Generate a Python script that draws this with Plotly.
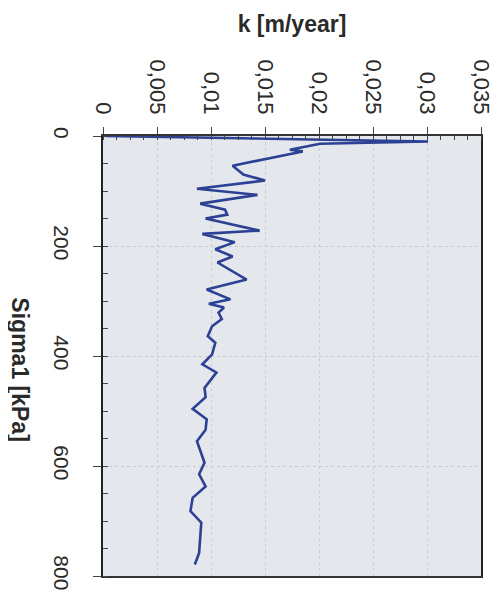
import plotly.graph_objects as go

# Data
sigma1_kpa = [0, 10, 14, 25, 28, 54, 70, 81, 96, 107, 123, 134, 143, 150, 172, 178,
              193, 206, 219, 230, 261, 279, 297, 305, 312, 321, 333, 346, 364, 376,
              397, 415, 430, 458, 475, 496, 515, 534, 555, 594, 615, 637, 658, 682,
              703, 758, 779]
k_m_per_year = [0.0002, 0.0301, 0.0201, 0.0173, 0.0185, 0.0120, 0.0130, 0.0150, 0.0087,
                0.0143, 0.0090, 0.0113, 0.0115, 0.0095, 0.0145, 0.0092, 0.0122, 0.0104,
                0.0120, 0.0106, 0.0133, 0.0096, 0.0118, 0.0098, 0.0112, 0.0107, 0.0110,
                0.0101, 0.0097, 0.0104, 0.0101, 0.0092, 0.0105, 0.0094, 0.0095, 0.0083,
                0.0096, 0.0095, 0.0087, 0.0094, 0.0089, 0.0095, 0.0083, 0.0081, 0.0091,
                0.0089, 0.0085]

k_tick_vals = [0, 0.005, 0.01, 0.015, 0.02, 0.025, 0.03, 0.035]
k_tick_text = ["0", "0,005", "0,01", "0,015", "0,02", "0,025", "0,03", "0,035"]
sigma_tick_vals = [0, 200, 400, 600, 800]
sigma_tick_text = ["0", "200", "400", "600", "800"]

x_title = "k [m/year]"
y_title = "Sigma1 [kPa]"

FONT = "Liberation Sans, Arial, sans-serif"
TXT = "#2a2a2a"

fig = go.Figure()
fig.add_trace(go.Scatter(
    x=k_m_per_year, y=sigma1_kpa, mode="lines",
    line=dict(color="#2c4094", width=2.6),
    showlegend=False, hoverinfo="skip",
))

fig.update_layout(
    width=501, height=600,
    margin=dict(l=95, r=28, t=128, b=32),
    paper_bgcolor="white",
    plot_bgcolor="#e4e8ed",
    font=dict(family=FONT, color=TXT),
    xaxis=dict(
        side="top", range=[0, 0.035],
        tickvals=k_tick_vals, ticktext=k_tick_text, tickangle=90,
        tickfont=dict(size=22, color=TXT),
        ticks="outside", ticklen=7, tickcolor="#444", tickwidth=1,
        ticklabelstandoff=5,
        showline=True, linecolor="#333", linewidth=1.6, mirror=True,
        showgrid=True, gridcolor="#cbced4", griddash="dot", gridwidth=1,
        zeroline=False,
        minor=dict(ticks="inside", ticklen=4, tickcolor="#444",
                   dtick=0.00125, tick0=0, showgrid=False),
        title=dict(text="<b>" + x_title + "</b>",
                   font=dict(size=23, color=TXT), standoff=20),
    ),
    yaxis=dict(
        range=[800, 0],
        tickvals=sigma_tick_vals, ticktext=sigma_tick_text, tickangle=90,
        tickfont=dict(size=21, color=TXT),
        ticks="outside", ticklen=8, tickcolor="#444", tickwidth=1,
        ticklabelstandoff=14,
        showline=True, linecolor="#222", linewidth=2, mirror=True,
        showgrid=True, gridcolor="#c6c9cf", griddash="dot", gridwidth=1,
        zeroline=False,
        minor=dict(ticks="inside", ticklen=5, tickcolor="#444",
                   dtick=50, tick0=0, showgrid=False),
        title=dict(text=""),
    ),
)

fig.add_annotation(
    text="<b>" + y_title + "</b>", textangle=90,
    xref="paper", yref="paper", x=-0.22, y=0.47,
    xanchor="center", yanchor="middle", showarrow=False,
    font=dict(size=23, color=TXT, family=FONT),
)

fig.write_html("out.html")
